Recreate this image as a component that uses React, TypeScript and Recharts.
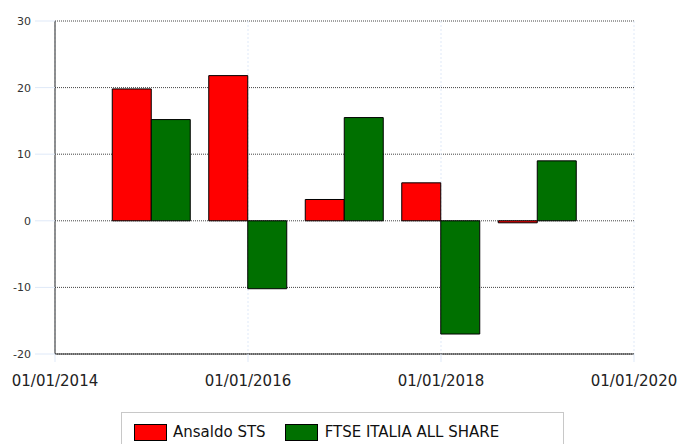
import React from 'react';
import { BarChart, Bar, XAxis, YAxis, CartesianGrid, Legend } from 'recharts';

const years = [2015, 2016, 2017, 2018, 2019];
const ansaldo = [19.8, 21.8, 3.2, 5.7, -0.3];
const ftse = [15.2, -10.2, 15.5, -17.0, 9.0];
const xTicks = [2014, 2016, 2018, 2020];
const yTicks = [-20, -10, 0, 10, 20, 30];

const data = years.map((y, i) => ({ x: y, ansaldo: ansaldo[i], ftse: ftse[i] }));

const FONT = 'Tahoma, "DejaVu Sans", Verdana, sans-serif';

const LegendContent = () => (
  <div
    style={{
      width: 443,
      height: 40,
      boxSizing: 'border-box',
      border: '1px solid #c8c8c8',
      background: '#fff',
      display: 'flex',
      alignItems: 'flex-start',
      paddingTop: 11,
      paddingLeft: 12,
      fontFamily: FONT,
      fontSize: 15,
      color: '#111',
    }}
  >
    <span style={{ display: 'inline-block', width: 33, height: 17, background: '#ff0000', border: '1px solid #000', boxSizing: 'border-box', marginRight: 6 }} />
    <span style={{ marginRight: 19, lineHeight: '17px' }}>Ansaldo STS</span>
    <span style={{ display: 'inline-block', width: 33, height: 17, background: '#007000', border: '1px solid #000', boxSizing: 'border-box', marginRight: 7 }} />
    <span style={{ lineHeight: '17px' }}>FTSE ITALIA ALL SHARE</span>
  </div>
);

export default function App() {
  return (
    <div style={{ position: 'absolute', left: 0, top: 0, width: 678, height: 444, overflow: 'hidden', background: '#fff' }}>
      <BarChart
        width={678}
        height={444}
        data={data}
        margin={{ top: 21, right: 44, left: 0, bottom: 20 }}
        barGap={0}
        barSize={39}
      >
        <CartesianGrid vertical={false} horizontal stroke="#444" strokeDasharray="1 1" />
        <CartesianGrid horizontal={false} vertical stroke="#dfe9f8" strokeDasharray="2 2" />
        <XAxis
          dataKey="x"
          type="number"
          domain={[2014, 2020]}
          ticks={xTicks}
          tickFormatter={(v: number) => `01/01/${v}`}
          height={30}
          tickSize={8}
          tickMargin={13}
          axisLine={{ stroke: '#222' }}
          tickLine={{ stroke: '#dfe9f8' }}
          tick={{ fill: '#222', fontSize: 15, fontFamily: FONT }}
          interval={0}
          allowDataOverflow
        />
        <YAxis
          type="number"
          domain={[-20, 30]}
          ticks={yTicks}
          width={55}
          tickSize={20}
          tickMargin={4}
          axisLine={{ stroke: '#222' }}
          tickLine={{ stroke: '#dfe9f8' }}
          tick={{ fill: '#333', fontSize: 11, fontFamily: FONT }}
          interval={0}
        />
        <Legend
          content={<LegendContent />}
          verticalAlign="bottom"
          wrapperStyle={{ left: 121, top: 412, bottom: 'auto', width: 443, height: 40 }}
        />
        <Bar dataKey="ansaldo" fill="#ff0000" stroke="#000" strokeWidth={1} isAnimationActive={false} />
        <Bar dataKey="ftse" fill="#007000" stroke="#000" strokeWidth={1} isAnimationActive={false} />
      </BarChart>
    </div>
  );
}
